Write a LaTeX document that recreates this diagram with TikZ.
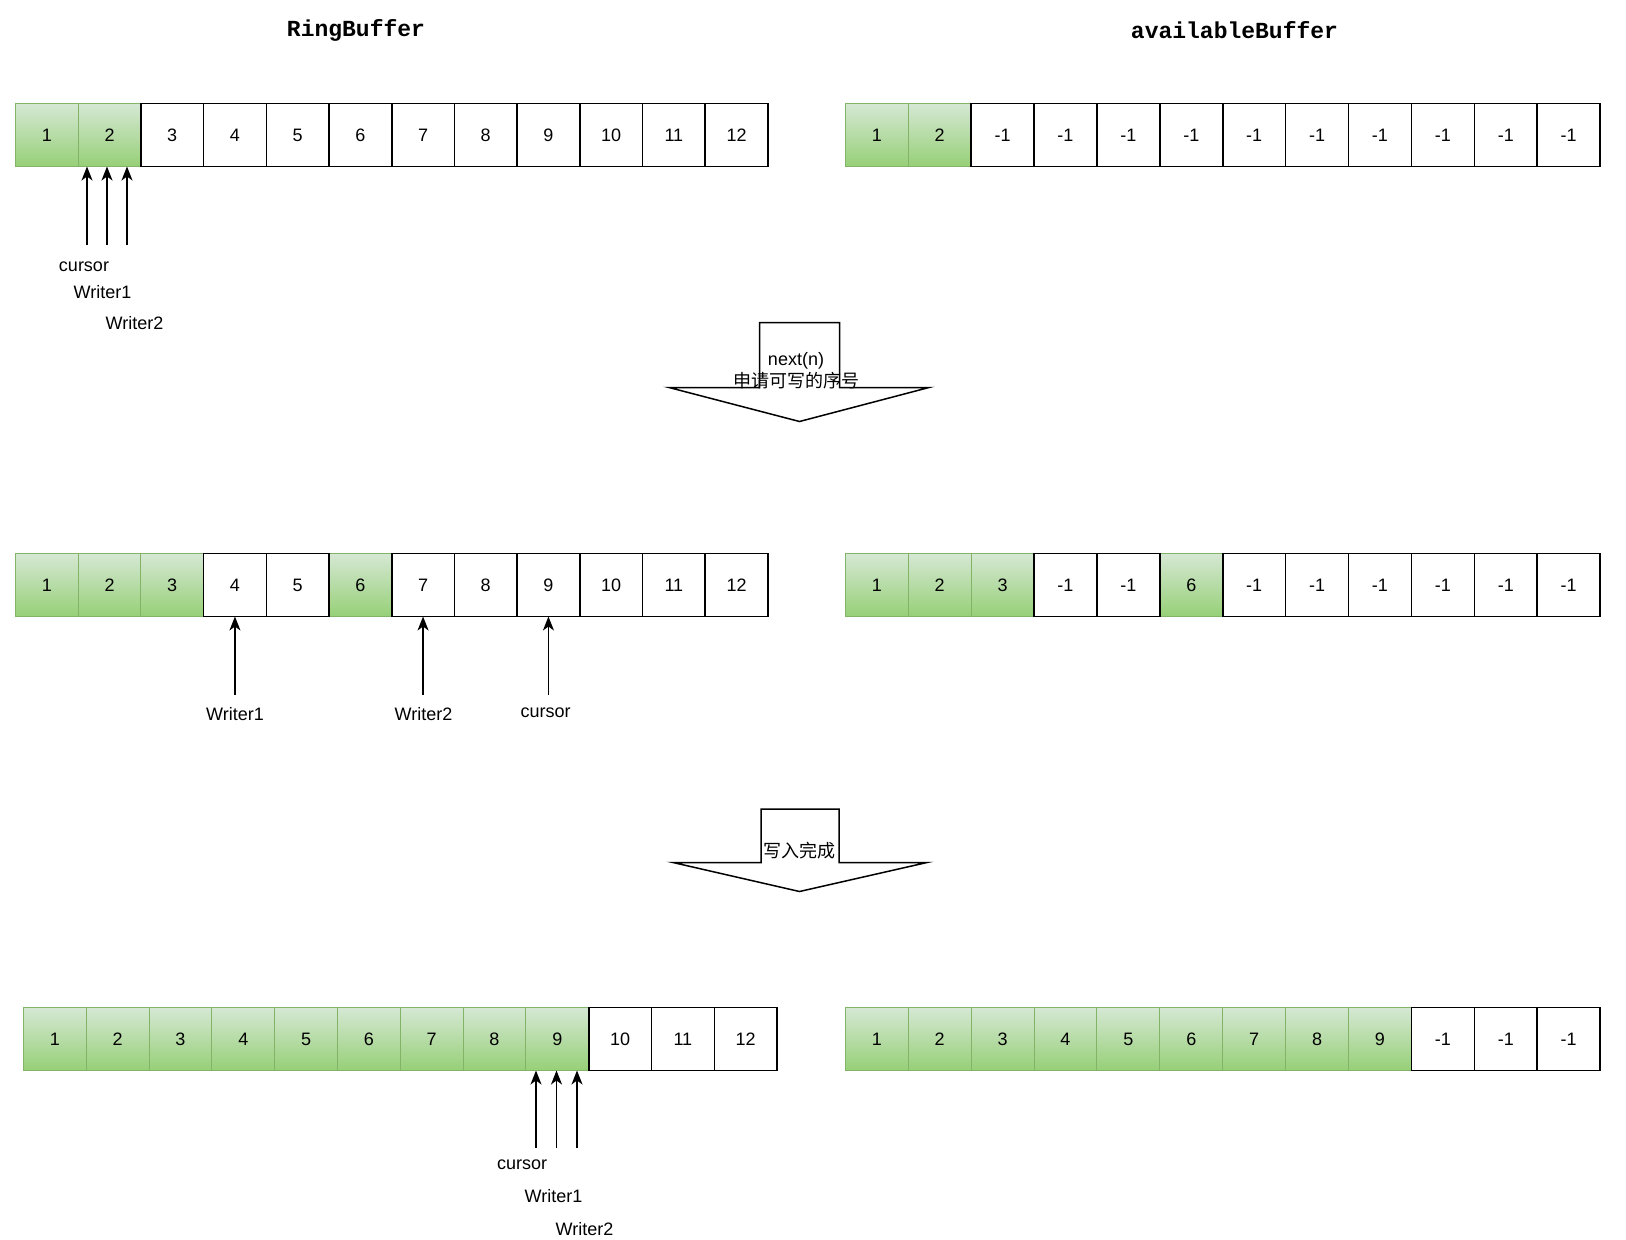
\documentclass[tikz,border=0pt]{standalone}
\usepackage{fontspec}
\setmainfont{Liberation Sans}
\setmonofont{Liberation Mono}
\newfontfamily\cjk{Noto Sans CJK SC}
\usetikzlibrary{arrows.meta}
\definecolor{gtop}{HTML}{D5E8D4}
\definecolor{gbot}{HTML}{97D077}
\definecolor{gborder}{HTML}{82B366}
\tikzset{
  cellbase/.style={anchor=north west, minimum height=63pt, inner sep=0pt, outer sep=0pt,
    font=\fontsize{18}{20}\selectfont},
  cellw/.style={cellbase, draw=black, fill=white, line width=1.6pt},
  cellg/.style={cellbase, draw=gborder, top color=gtop, bottom color=gbot, line width=1pt},
  arr/.style={line width=1.5pt, -{Stealth[length=14pt,width=11pt,inset=4pt]}},
  lbl/.style={font=\fontsize{18}{20}\selectfont, inner sep=1pt},
  title/.style={font=\ttfamily\bfseries\fontsize{23}{26}\selectfont},
  blockarrow/.style={draw=black, fill=white, line width=1.5pt, line join=miter},
  arrtext/.style={font=\fontsize{18}{20}\selectfont, inner sep=0pt}
}
\newcommand\buffer[5]{%
  \foreach \i/\t/\g in {#5} {\ifnum\g=1 \node[cellg, minimum width=#4pt] (#1\i) at ({#2+(\i-1)*#4},#3) {\t};\fi}
  \foreach \i/\t/\g in {#5} {\ifnum\g=0 \node[cellw, minimum width=#4pt] (#1\i) at ({#2+(\i-1)*#4},#3) {\t};\fi}
}
\begin{document}
\begin{tikzpicture}[x=1pt, y=-1pt]
\useasboundingbox[fill=white] (0,0) rectangle (1626,1240);

% titles
\node[title] (t1) at (356,30) {RingBuffer};
\node[title] (t2) at (1234.5,30) {availableBuffer};

% row 1
\buffer{ra}{15.5}{103.5}{62.7}{1/1/1,2/2/1,3/3/0,4/4/0,5/5/0,6/6/0,7/7/0,8/8/0,9/9/0,10/10/0,11/11/0,12/12/0}
\buffer{aa}{845.3}{103.5}{62.9}{1/1/1,2/2/1,3/-1/0,4/-1/0,5/-1/0,6/-1/0,7/-1/0,8/-1/0,9/-1/0,10/-1/0,11/-1/0,12/-1/0}

% row 2
\buffer{rb}{15.5}{553.5}{62.7}{1/1/1,2/2/1,3/3/1,4/4/0,5/5/0,6/6/1,7/7/0,8/8/0,9/9/0,10/10/0,11/11/0,12/12/0}
\buffer{ab}{845.3}{553.5}{62.9}{1/1/1,2/2/1,3/3/1,4/-1/0,5/-1/0,6/6/1,7/-1/0,8/-1/0,9/-1/0,10/-1/0,11/-1/0,12/-1/0}

% row 3
\buffer{rc}{23.5}{1007.5}{62.8}{1/1/1,2/2/1,3/3/1,4/4/1,5/5/1,6/6/1,7/7/1,8/8/1,9/9/1,10/10/0,11/11/0,12/12/0}
\buffer{ac}{845.3}{1007.5}{62.9}{1/1/1,2/2/1,3/3/1,4/4/1,5/5/1,6/6/1,7/7/1,8/8/1,9/9/1,10/-1/0,11/-1/0,12/-1/0}

% row 1 pointers
\coordinate (p1a) at (87,245);
\coordinate (p1b) at (107,245);
\coordinate (p1c) at (127,245);
\draw[arr] (p1a) -- (p1a |- ra2.south);
\draw[arr] (p1b) -- (p1b |- ra2.south);
\draw[arr] (p1c) -- (p1c |- ra2.south);
\node[lbl] (l1a) at (84,267) {cursor};
\node[lbl] (l1b) at (102.5,292) {Writer1};
\node[lbl] (l1c) at (134.5,323) {Writer2};

% block arrow 1
\draw[blockarrow] (759.5,322.5) -- (839.5,322.5) -- (839.5,387.5) -- (929,387.5)
  -- (799.5,421.5) -- (669,387.5) -- (759.5,387.5) -- cycle;
\node[arrtext] (n1) at (796,361) {next(n)};
\node[arrtext] (n2) at (796,381) {\cjk 申请可写的序号};

% row 2 pointers
\coordinate (p2a) at (rb4.south |- 0,695);
\coordinate (p2b) at (rb7.south |- 0,695);
\coordinate (p2c) at (rb9.south |- 0,695);
\draw[arr] (p2a) -- (rb4.south);
\draw[arr] (p2b) -- (rb7.south);
\draw[arr] (p2c) -- (rb9.south);
\node[lbl] (l2a) at (235,714.5) {Writer1};
\node[lbl] (l2b) at (423.5,714.5) {Writer2};
\node[lbl] (l2c) at (545.5,713) {cursor};

% block arrow 2
\draw[blockarrow] (761,809) -- (839,809) -- (839,862.5) -- (927,862.5)
  -- (799.5,891.5) -- (673,862.5) -- (761,862.5) -- cycle;
\node[arrtext] (n3) at (799,851) {\cjk 写入完成};

% row 3 pointers
\coordinate (p3a) at (536,1148);
\coordinate (p3b) at (556.5,1148);
\coordinate (p3c) at (577,1148);
\draw[arr] (p3a) -- (p3a |- rc9.south);
\draw[arr] (p3b) -- (p3b |- rc9.south);
\draw[arr] (p3c) -- (p3c |- rc9.south);
\node[lbl] (l3a) at (522,1165) {cursor};
\node[lbl] (l3b) at (553.5,1196.5) {Writer1};
\node[lbl] (l3c) at (584.5,1229.5) {Writer2};
\end{tikzpicture}
\end{document}
